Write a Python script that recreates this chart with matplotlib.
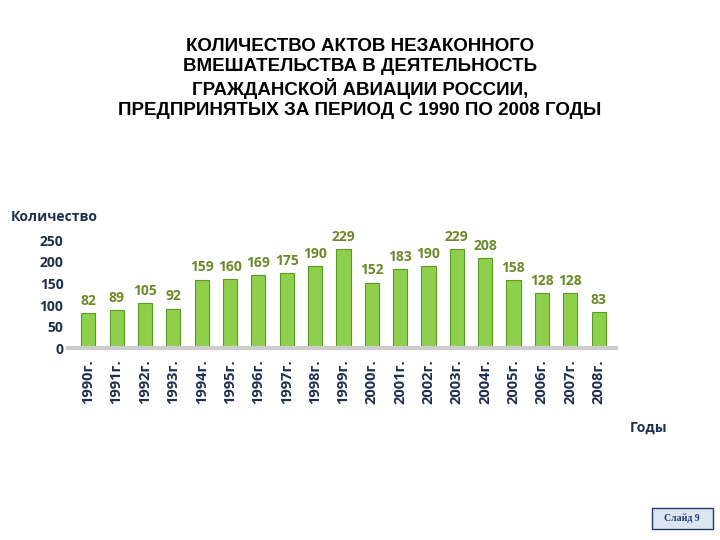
import matplotlib.pyplot as plt
import matplotlib.patches as mpatches

plt.rcParams['font.family'] = ['Open Sans', 'DejaVu Sans']

years = ["1990г.", "1991г.", "1992г.", "1993г.", "1994г.", "1995г.", "1996г.",
         "1997г.", "1998г.", "1999г.", "2000г.", "2001г.", "2002г.", "2003г.",
         "2004г.", "2005г.", "2006г.", "2007г.", "2008г."]
counts = [82, 89, 105, 92, 159, 160, 169, 175, 190, 229, 152, 183, 190, 229,
          208, 158, 128, 128, 83]

fig = plt.figure(figsize=(7.2, 5.4), dpi=100)
fig.text(0.5, 0.855,
         "КОЛИЧЕСТВО АКТОВ НЕЗАКОННОГО\nВМЕШАТЕЛЬСТВА В ДЕЯТЕЛЬНОСТЬ\n"
         "ГРАЖДАНСКОЙ АВИАЦИИ РОССИИ,\nПРЕДПРИНЯТЫХ ЗА ПЕРИОД С 1990 ПО 2008 ГОДЫ",
         ha="center", va="center", fontsize=13.5, fontweight="bold",
         linespacing=1.2, color="black", family="Liberation Sans")

ax = fig.add_axes([0.095, 0.355, 0.76, 0.2])
x = range(len(years))
ax.bar(x, counts, width=0.5, color="#8ed04b", edgecolor="#5a9a25", linewidth=0.8,
       clip_on=False)
for i, v in zip(x, counts):
    ax.text(i, v + 12, str(v), ha="center", va="bottom", fontsize=10,
            fontweight="bold", color="#6c8a2a")

ax.set_ylim(0, 250)
ax.set_xlim(-0.7, len(years) - 0.4)
ax.set_yticks([0, 50, 100, 150, 200, 250])
ax.tick_params(axis="y", labelsize=10, colors="#1f2f4f", length=0)
for lbl in ax.get_yticklabels():
    lbl.set_fontweight("bold")
ax.set_xticks(list(x))
ax.set_xticklabels(years, rotation=90, fontsize=10.5, fontweight="bold", color="#1f2f4f")
ax.tick_params(axis="x", length=0, pad=8)
for s in ["top", "right", "left"]:
    ax.spines[s].set_visible(False)
ax.spines["bottom"].set_color("#cccccc")
ax.spines["bottom"].set_linewidth(3)

fig.text(0.015, 0.59, "Количество", fontsize=10, fontweight="bold", color="#1f2f4f")
fig.text(0.875, 0.2, "Годы", fontsize=10, fontweight="bold", color="#1f2f4f")

fig.patches.append(mpatches.Rectangle((0.905, 0.02), 0.085, 0.04, transform=fig.transFigure,
                                      facecolor="#dde6f0", edgecolor="#1f3a6a", linewidth=1))
fig.text(0.947, 0.04, "Слайд 9", ha="center", va="center", fontsize=7,
         family="Liberation Serif", color="#1f3a6a", fontweight="bold")

fig.savefig("out.png", dpi=100)
